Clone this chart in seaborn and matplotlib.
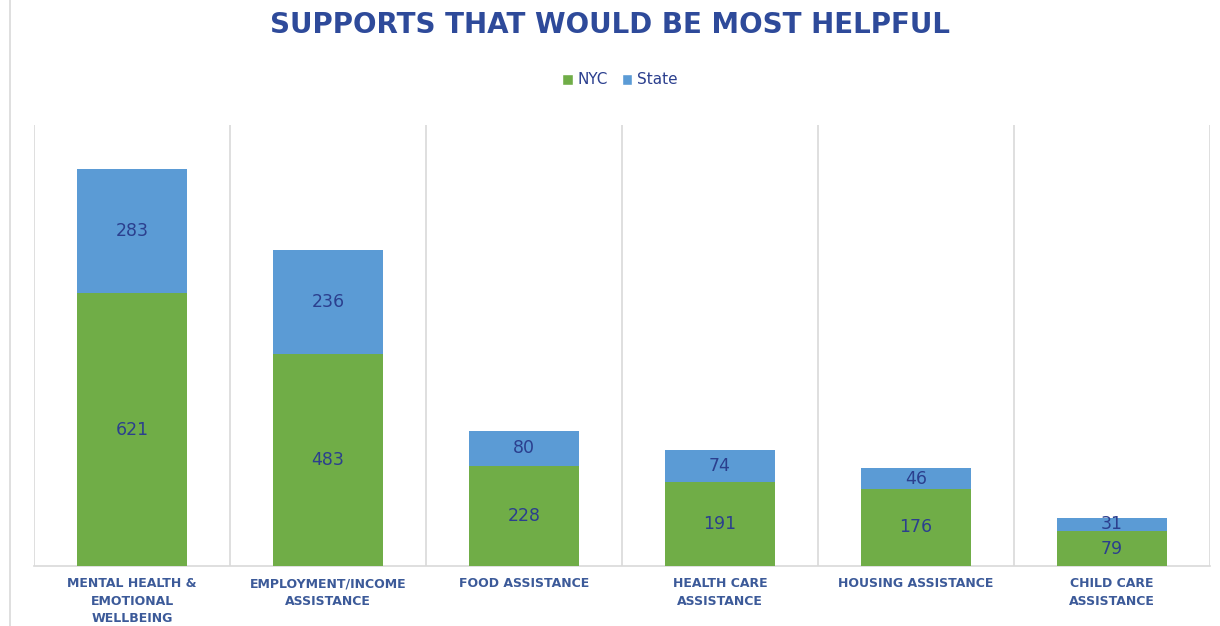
import matplotlib
matplotlib.use("Agg")
import matplotlib.pyplot as plt
import seaborn as sns
import pandas as pd
from matplotlib.lines import Line2D
from matplotlib.patches import Patch

categories = ["MENTAL HEALTH &\nEMOTIONAL\nWELLBEING",
              "EMPLOYMENT/INCOME\nASSISTANCE",
              "FOOD ASSISTANCE",
              "HEALTH CARE\nASSISTANCE",
              "HOUSING ASSISTANCE",
              "CHILD CARE\nASSISTANCE"]
nyc = [621, 483, 228, 191, 176, 79]
state = [283, 236, 80, 74, 46, 31]
title = "SUPPORTS THAT WOULD BE MOST HELPFUL"

GREEN = "#70AD47"
BLUE = "#5B9BD5"
NAVY = "#2B3F8E"
TICKC = "#3C5A99"
GRID = "#D9D9D9"

sns.set_theme(style="white")
plt.rcParams['font.family'] = ['DejaVu Sans']

df = pd.DataFrame({"cat": categories, "NYC": nyc, "State": state})
df["Total"] = df["NYC"] + df["State"]

fig = plt.figure(figsize=(12.2, 6.26), dpi=100)
ax = fig.add_axes([34/1220, 60/626, (1210-34)/1220, (566-125)/626])

sns.barplot(data=df, x="cat", y="Total", color=BLUE, width=0.56, saturation=1, ax=ax,
            zorder=3, linewidth=0, edgecolor="none")
sns.barplot(data=df, x="cat", y="NYC", color=GREEN, width=0.56, saturation=1, ax=ax,
            zorder=3, linewidth=0, edgecolor="none")

ax.set_ylim(0, 1004)
ax.set_xlim(-0.5, len(categories) - 0.5)
for b in [i - 0.5 for i in range(len(categories) + 1)]:
    ax.axvline(b, color=GRID, lw=1.2, zorder=1)

for i, (n, s) in enumerate(zip(nyc, state)):
    ax.text(i, n / 2, str(n), ha="center", va="center", color=NAVY, fontsize=12.5, zorder=4)
    ax.text(i, n + s / 2, str(s), ha="center", va="center", color=NAVY, fontsize=12.5, zorder=4)

for sp in ["top", "left", "right"]:
    ax.spines[sp].set_visible(False)
ax.spines["bottom"].set_color(GRID)
ax.spines["bottom"].set_linewidth(1.2)
ax.set_yticks([])
ax.set_xlabel("")
ax.set_ylabel("")
ax.tick_params(axis="x", length=0, pad=8)
ax.set_xticks(range(len(categories)))
ax.set_xticklabels(categories, fontsize=9, fontweight="bold", color=TICKC, linespacing=1.45)

fig.text(0.5, 1 - 25/626, title, ha="center", va="center", fontsize=20, fontweight="bold",
         color="#2E4A9A")
fig.add_artist(Line2D([10/1220, 10/1220], [0, 1], transform=fig.transFigure, color=GRID, lw=1.2))

handles = [Patch(facecolor=GREEN, label="NYC"), Patch(facecolor=BLUE, label="State")]
leg = fig.legend(handles=handles, loc="center", bbox_to_anchor=(0.508, 1 - 80/626), ncol=2, frameon=False,
                 fontsize=11, handlelength=0.7, handleheight=0.7, handletextpad=0.3, columnspacing=0.9)
for t in leg.get_texts():
    t.set_color(NAVY)

fig.savefig("out.png", dpi=100)
